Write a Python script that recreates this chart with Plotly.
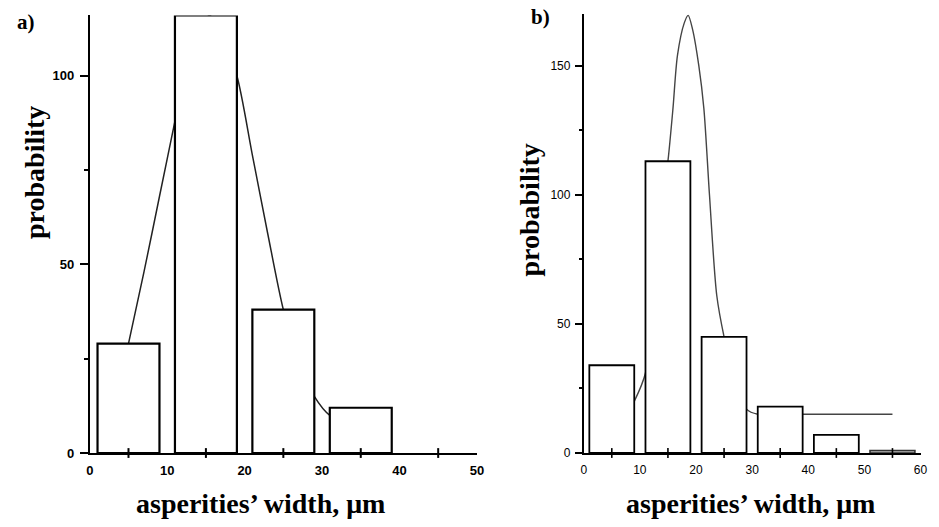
import plotly.graph_objects as go

# ---------------- data ----------------
# panel a)
a_bin_centers = [5, 15, 25, 35]
a_bin_values = [29, 116, 38, 12]
a_curve_x = [5, 7, 9, 11, 13, 15.5, 17, 19, 21, 23, 25, 27, 29, 31, 35, 39]
a_curve_y = [29, 48, 68, 88, 108, 116, 111, 100, 79, 58, 38, 24, 15, 10, 7, 5]
a_xticks = [0, 10, 20, 30, 40, 50]
a_minor_xticks = [5, 15, 25, 35, 45]
a_yticks = [0, 50, 100]
a_minor_yticks = [25, 75]

# panel b)
b_bin_centers = [5, 15, 25, 35, 45, 55]
b_bin_values = [34, 113, 45, 18, 7, 1]
b_bin_shaded = [False, False, False, False, False, True]
b_curve_x = [9, 11, 13, 15.1, 15.9, 16.7, 17.9, 18.6, 19.4, 20.5, 21.4, 22.4, 23.7, 25, 27, 29, 31, 35, 39, 45, 50, 55]
b_curve_y = [20, 31, 75, 115, 133.5, 154, 166.5, 169.5, 164, 150, 133.5, 100, 61, 45, 27, 17, 15, 15, 15, 15, 15, 15]
b_xticks = [0, 10, 20, 30, 40, 50, 60]
b_minor_xticks = [5, 15, 25, 35, 45, 55]
b_yticks = [0, 50, 100, 150]
b_minor_yticks = [25, 75, 125]

bin_width = 8
W, H = 939, 527


def bar_outline(centers, values, width):
    """Closed rectangle outlines (axis coordinates) for fill='toself' scatter traces."""
    xs, ys = [], []
    for c, v in zip(centers, values):
        l, r = c - width / 2, c + width / 2
        xs += [l, l, r, r, l, None]
        ys += [0, v, v, 0, 0, None]
    return xs, ys


fig = go.Figure()

# curves first (bars are opaque and drawn on top)
fig.add_trace(go.Scatter(x=a_curve_x, y=a_curve_y, mode="lines",
                         line=dict(color="#222", width=1.5, shape="spline", smoothing=0.8),
                         xaxis="x", yaxis="y", hoverinfo="skip"))
fig.add_trace(go.Scatter(x=b_curve_x, y=b_curve_y, mode="lines",
                         line=dict(color="#444", width=1.4, shape="spline", smoothing=0.8),
                         xaxis="x2", yaxis="y2", hoverinfo="skip"))

ax, ay = bar_outline(a_bin_centers, a_bin_values, bin_width)
fig.add_trace(go.Scatter(x=ax, y=ay, mode="lines", fill="toself", fillcolor="white",
                         line=dict(color="black", width=2.2), xaxis="x", yaxis="y", hoverinfo="skip"))

bw_c = [c for c, s in zip(b_bin_centers, b_bin_shaded) if not s]
bw_v = [v for v, s in zip(b_bin_values, b_bin_shaded) if not s]
bg_c = [c for c, s in zip(b_bin_centers, b_bin_shaded) if s]
bg_v = [v for v, s in zip(b_bin_values, b_bin_shaded) if s]
bx, by = bar_outline(bw_c, bw_v, bin_width)
fig.add_trace(go.Scatter(x=bx, y=by, mode="lines", fill="toself", fillcolor="white",
                         line=dict(color="black", width=1.8), xaxis="x2", yaxis="y2", hoverinfo="skip"))
gx, gy = bar_outline(bg_c, bg_v, bin_width)
fig.add_trace(go.Scatter(x=gx, y=gy, mode="lines", fill="toself", fillcolor="#bdbdbd",
                         line=dict(color="#333", width=1.6), xaxis="x2", yaxis="y2", hoverinfo="skip"))

# minor tick marks crossing the x axes
fig.add_trace(go.Scatter(x=a_minor_xticks, y=[0] * len(a_minor_xticks), mode="markers",
                         marker=dict(symbol="line-ns", size=7, line=dict(color="black", width=2)),
                         xaxis="x", yaxis="y", cliponaxis=False, hoverinfo="skip"))
fig.add_trace(go.Scatter(x=b_minor_xticks, y=[0] * len(b_minor_xticks), mode="markers",
                         marker=dict(symbol="line-ns", size=7, line=dict(color="black", width=1.6)),
                         xaxis="x2", yaxis="y2", cliponaxis=False, hoverinfo="skip"))

axis_common = dict(showgrid=False, zeroline=False, showline=True, linecolor="black")

fig.update_layout(
    width=W, height=H,
    margin=dict(l=0, r=0, t=0, b=0),
    paper_bgcolor="white", plot_bgcolor="white",
    showlegend=False,
    xaxis=dict(domain=[86.8 / W, 478.5 / W], range=[0, 50], anchor="y", tickvals=a_xticks, ticks="",
               linewidth=2, tickfont=dict(family="Liberation Sans", size=13, color="black", weight="bold"),
               ticklabelstandoff=4, **axis_common),
    yaxis=dict(domain=[1 - 460 / H, 1 - 15.7 / H], range=[0, 116], anchor="x",
               tickvals=a_yticks, ticks="outside", ticklen=8, tickwidth=2, tickcolor="black",
               minor=dict(tickvals=a_minor_yticks, ticks="outside", ticklen=4, tickwidth=2, tickcolor="black"),
               linewidth=2, tickfont=dict(family="Liberation Sans", size=13, color="black", weight="bold"),
               ticklabelstandoff=3, **axis_common),
    xaxis2=dict(domain=[586.6 / W, 927.4 / W], range=[0, 60], anchor="y2", tickvals=b_xticks, ticks="",
                linewidth=1.8, tickfont=dict(family="Liberation Sans", size=12, color="black"),
                ticklabelstandoff=5, **axis_common),
    yaxis2=dict(domain=[1 - 460 / H, 1 - 14.3 / H], range=[0, 170], anchor="x2",
                tickvals=b_yticks, ticks="outside", ticklen=7, tickwidth=1.6, tickcolor="black",
                minor=dict(tickvals=b_minor_yticks, ticks="outside", ticklen=3, tickwidth=1.6, tickcolor="black"),
                linewidth=1.8, tickfont=dict(family="Liberation Sans", size=12, color="black"),
                ticklabelstandoff=2, **axis_common),
)

title_font = dict(family="Liberation Serif", size=28, color="black", weight="bold")
label_font = dict(family="Liberation Serif", size=21, color="black", weight="bold")

annotations = [
    dict(text="asperities’ width, μm", x=260 / W, y=1 - 511 / H, xref="paper", yref="paper",
         showarrow=False, font=title_font, xanchor="center", yanchor="middle"),
    dict(text="asperities’ width, μm", x=755 / W, y=1 - 511 / H, xref="paper", yref="paper",
         showarrow=False, font=title_font, xanchor="center", yanchor="middle"),
    dict(text="probability", x=31 / W, y=1 - 175 / H, xref="paper", yref="paper", textangle=-90,
         showarrow=False, font=title_font, xanchor="center", yanchor="middle"),
    dict(text="probability", x=532 / W, y=1 - 213 / H, xref="paper", yref="paper", textangle=-90,
         showarrow=False, font=title_font, xanchor="center", yanchor="middle"),
    dict(text="a)", x=22 / W, y=1 - 22 / H, xref="paper", yref="paper",
         showarrow=False, font=label_font, xanchor="center", yanchor="middle"),
    dict(text="b)", x=543 / W, y=1 - 17 / H, xref="paper", yref="paper",
         showarrow=False, font=label_font, xanchor="center", yanchor="middle"),
]
fig.update_layout(annotations=annotations)

fig.write_html("out.html", config={"displayModeBar": False},
               post_script="document.body.style.margin='0';document.body.style.overflow='hidden';")
